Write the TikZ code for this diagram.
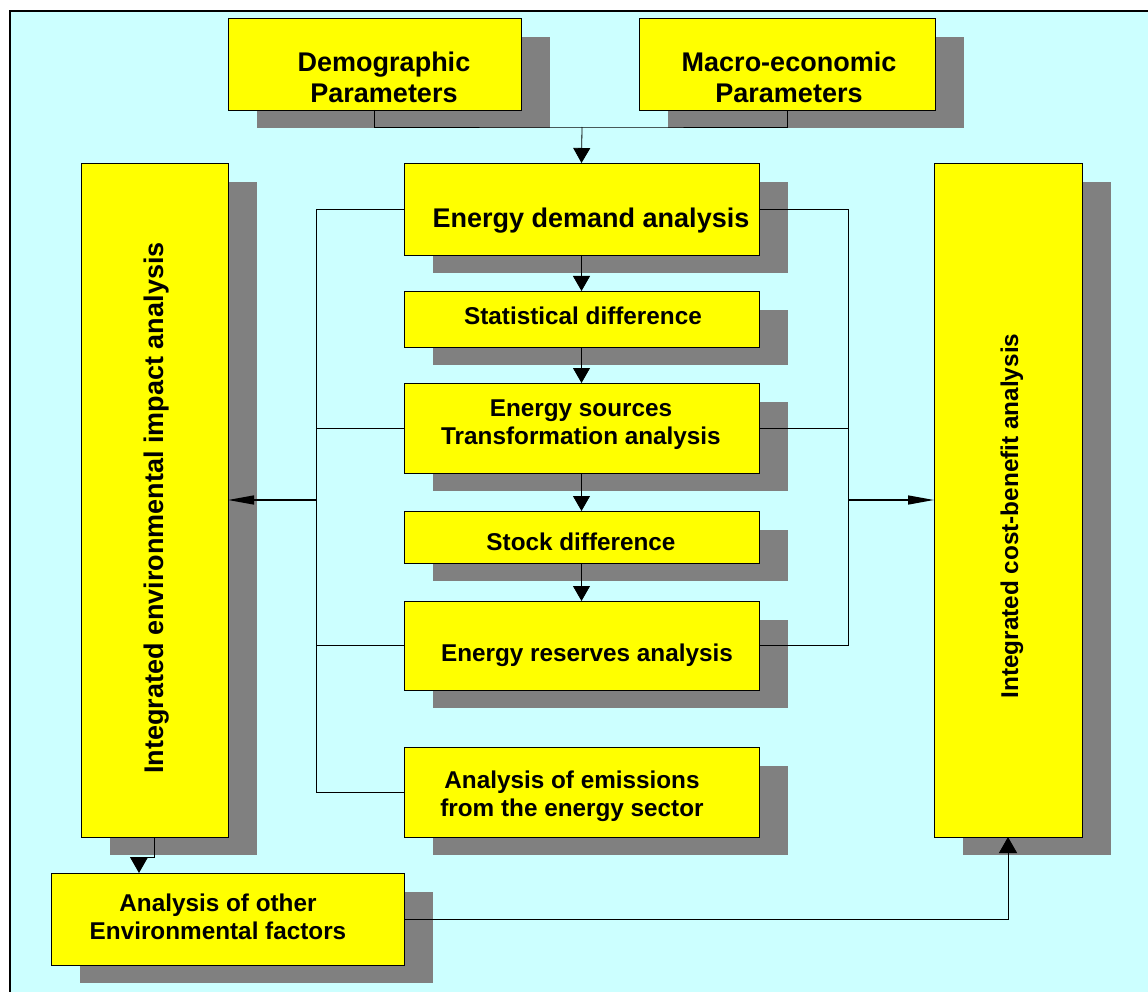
\documentclass[tikz,border=0pt]{standalone}
\usepackage{fontspec}
\setmainfont{Liberation Sans}
\usetikzlibrary{arrows.meta}
\definecolor{bgcyan}{HTML}{CCFFFF}
\definecolor{boxyellow}{HTML}{FFFF00}
\definecolor{shadowgray}{HTML}{808080}
\tikzset{
  ybox/.style={draw=black, line width=0.8pt, fill=boxyellow, inner sep=0pt, outer sep=0pt, anchor=north west},
  shadowbox/.style={fill=shadowgray},
  lblbig/.style={align=center, inner sep=0pt, font=\bfseries\fontsize{27}{31}\selectfont},
  lbl/.style={align=center, inner sep=0pt, font=\bfseries\fontsize{24.3}{28}\selectfont},
  conn/.style={draw=black, line width=0.8pt},
  arr/.style={conn, -{Triangle[length=15pt,width=17pt]}},
  arrb/.style={conn, -{Triangle[length=16pt,width=18pt]}},
  sidearr/.style={draw=black, line width=1.4pt, -{Triangle[length=26pt,width=9pt]}}
}
\newcommand\mybox[5]{%
  \fill[shadowbox] (#2+29,#3+19) rectangle (#4+29,#5+18);
  \node[ybox, minimum width={(#4-#2)*1pt}, minimum height={(#5-#3)*1pt}] (#1) at (#2,#3) {};
}
\begin{document}
\begin{tikzpicture}[x=1pt,y=-1pt]
\useasboundingbox (0,0) rectangle (1148,992);
\fill[white] (0,0) rectangle (1148,992);
\fill[bgcyan] (10,11) rectangle (1148,992);
\draw[line width=1.5pt] (10,992) -- (10,11) -- (1148,11);

% boxes
\mybox{demo}{228}{18}{521}{110}
\mybox{macro}{639}{18}{935}{110}
\mybox{demand}{404}{163}{759}{255}
\mybox{stat}{404}{291}{759}{347}
\mybox{src}{404}{383}{759}{473}
\mybox{stock}{404}{511}{759}{563}
\mybox{res}{404}{601}{759}{690}
\mybox{emis}{404}{747}{759}{837}
\mybox{env}{81}{163}{228}{837}
\mybox{cba}{934}{163}{1082}{837}
\mybox{other}{51}{873}{404}{965}

% labels
\node[lblbig] (tdemo) at (384,77) {Demographic\\Parameters};
\node[lblbig] (tmacro) at (789,77) {Macro-economic\\Parameters};
\node[lblbig] (tdemand) at (591,221) {Energy demand analysis};
\node[lbl] (tstat) at (583,316) {Statistical difference};
\node[lbl] (tsrc) at (581,425) {Energy sources\\Transformation analysis};
\node[lbl] (tstock) at (581,542) {Stock difference};
\node[lbl] (tres) at (587,655) {Energy reserves analysis};
\node[lbl] (temis) at (572,796) {Analysis of emissions\\from the energy sector};
\node[lblbig, rotate=90] (tenv) at (157,508) {Integrated environmental impact analysis};
\node[lbl, rotate=90] (tcba) at (1012,516) {Integrated cost-benefit analysis};
\node[lbl] (tother) at (218,917) {Analysis of other\\Environmental factors};

% top connector
\coordinate (jt) at (582,127);
\draw[conn] (demo.south) |- (jt) -| (macro.south);
\draw[arr] (jt) -- (demand.north);

% central chain
\draw[arr] (demand.south) -- (stat.north);
\draw[arr] (stat.south) -- (src.north);
\draw[arr] (src.south) -- (stock.north);
\draw[arr] (stock.south) -- (res.north);

% left bus
\coordinate (lbus) at (316,0);
\draw[conn] (demand.west) -| (lbus |- emis.west) -- (emis.west);
\draw[conn] (src.west) -- (src.west -| lbus);
\draw[conn] (res.west) -- (res.west -| lbus);
\draw[sidearr] (env.east -| lbus) -- (env.east);

% right bus
\coordinate (rbus) at (848,0);
\draw[conn] (demand.east) -| (rbus |- res.east) -- (res.east);
\draw[conn] (src.east) -- (src.east -| rbus);
\draw[sidearr] (cba.west -| rbus) -- (cba.west);

% bottom connectors
\coordinate (envjog) at (139,857);
\draw[arrb] (env.south) |- (envjog) -- (envjog |- other.north);
\draw[arrb] (other.east) -| (cba.south);
\end{tikzpicture}
\end{document}
